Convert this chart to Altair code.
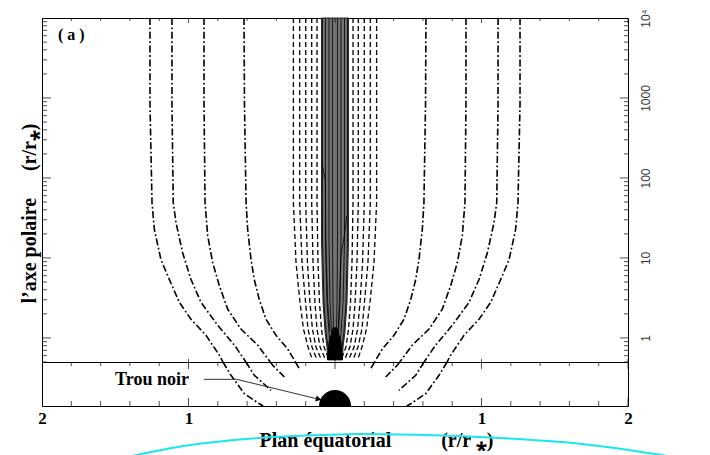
import altair as alt
import pandas as pd

# ---------------- data (r/r*) ----------------
# dash-dot field lines, right half (left half is the mirror image)
# upper panel: polar axis (log), lower panel: near equatorial plane (linear 0..0.5)
A_up_y = [10000, 850, 48.8, 22.7, 9.5, 5.38, 3.03, 1.71, 1.08, 0.726, 0.5]
A_up_x = [0.621, 0.618, 0.607, 0.596, 0.573, 0.551, 0.517, 0.471, 0.403, 0.323, 0.270]
A_lo_y = [0.5, 0.424]
A_lo_x = [0.270, 0.244]

B_up_y = [10000, 850, 48.8, 19.0, 8.75, 4.53, 2.28, 1.29, 0.814, 0.5]
B_up_x = [0.894, 0.894, 0.887, 0.869, 0.835, 0.790, 0.732, 0.642, 0.528, 0.442]
B_lo_y = [0.5, 0.4625, 0.330]
B_lo_x = [0.442, 0.425, 0.346]

C_up_y = [10000, 850, 48.8, 27.5, 11.6, 5.38, 2.79, 1.44, 0.814, 0.5]
C_up_x = [1.113, 1.113, 1.104, 1.085, 1.040, 0.983, 0.915, 0.801, 0.687, 0.608]
C_lo_y = [0.5, 0.349, 0.178]
C_lo_x = [0.608, 0.551, 0.437]

D_up_y = [10000, 850, 48.8, 22.7, 9.5, 6.0, 2.79, 1.71, 1.08, 0.611, 0.5]
D_up_x = [1.263, 1.263, 1.249, 1.233, 1.188, 1.142, 1.063, 0.983, 0.881, 0.790, 0.765]
D_lo_y = [0.5, 0.349, 0.140, 0.026, 0.0]
D_lo_x = [0.765, 0.710, 0.619, 0.517, 0.490]

# dashed lines (right half)
dash_y = [10000, 48.8, 8.75, 2.79, 1.29, 0.77, 0.55]
dash1_x = [0.123, 0.123, 0.116, 0.106, 0.092, 0.075, 0.044]
dash2_x = [0.159, 0.159, 0.150, 0.137, 0.123, 0.102, 0.068]
dash3_x = [0.200, 0.200, 0.188, 0.171, 0.154, 0.130, 0.096]
dash4_x = [0.241, 0.241, 0.225, 0.201, 0.184, 0.157, 0.126]
dash5_x = [0.284, 0.284, 0.266, 0.239, 0.215, 0.184, 0.157]

# jet core (grey band) half width
core_y = [10000, 15.5, 2.79, 1.18, 0.77, 0.53]
core_half = [0.092, 0.092, 0.082, 0.068, 0.055, 0.051]
blob_y = [1.36, 0.887, 0.53]
blob_half = [0.015, 0.044, 0.055]

# solid lines inside the core (right half)
cl_y = [10000, 15.5, 2.79, 1.18, 0.666, 0.53]
cl1_x = [0.017, 0.017, 0.014, 0.010, 0.007, 0.007]
cl2_x = [0.041, 0.041, 0.034, 0.024, 0.017, 0.014]
cl3_x = [0.065, 0.065, 0.055, 0.041, 0.031, 0.027]
cl4_x = [0.085, 0.085, 0.075, 0.061, 0.044, 0.041]
jagL_x = [-0.090, -0.066, -0.062, -0.050, -0.035]
jagL_y = [153, 94, 15.5, 2.79, 1.18]
jagR_x = [0.080, 0.064, 0.040, 0.030, 0.022]
jagR_y = [33.6, 19, 10.7, 2.79, 1.18]

# annotations
hole_x, hole_y = [0.0], [0.0]
label_x, label_y, label_t = [-1.249], [0.295], ["Trou noir"]
arrow_x = [-0.894, -0.671, -0.118]
arrow_y = [0.303, 0.303, 0.080]
head_x, head_y = [-0.112], [0.078]
panel_x, panel_y, panel_t = [-1.80], [6150], ["( a )"]

# cyan arc of the slide background, below the figure
arc_x = [-1.42, -1.00, -0.59, -0.09, 0.15, 0.55, 0.98, 1.67, 2.23, 2.42]
arc_y = [-0.58, -0.447, -0.372, -0.330, -0.318, -0.328, -0.352, -0.428, -0.557, -0.61]

# tick values
x_major = [-2, -1, 0, 1, 2]
x_minor = [-1.8, -1.6, -1.4, -1.2, -0.8, -0.6, -0.4, -0.2,
           0.2, 0.4, 0.6, 0.8, 1.2, 1.4, 1.6, 1.8]
log_major = [1, 10, 100, 1000, 10000]
log_minor = [0.5, 0.6, 0.7, 0.8, 0.9,
             2, 3, 4, 5, 6, 7, 8, 9,
             20, 30, 40, 50, 60, 70, 80, 90,
             200, 300, 400, 500, 600, 700, 800, 900,
             2000, 3000, 4000, 5000, 6000, 7000, 8000, 9000]

# ---------------- helpers ----------------
W, H_UP, H_LO = 586, 344, 44
SERIF = "Liberation Serif"
XS = alt.Scale(domain=[-2, 2], nice=False, zero=False)
YU = alt.Scale(type="log", domain=[0.5, 10000], nice=False)
YL = alt.Scale(domain=[0, 0.5], nice=False, zero=False)


def mirrored(curves):
    rows = []
    for name, xs, ys in curves:
        for side, s in (("R", 1), ("L", -1)):
            for i, (x, y) in enumerate(zip(xs, ys)):
                rows.append({"id": name + side, "i": i, "x": s * x, "y": y})
    return pd.DataFrame(rows)


def lines(df, yscale, yaxis=None, xaxis=None, **mk):
    return alt.Chart(df).mark_line(color="black", **mk).encode(
        x=alt.X("x:Q", scale=XS, axis=xaxis),
        y=alt.Y("y:Q", scale=yscale, axis=yaxis),
        detail="id:N",
        order="i:Q",
    )


def ticks(values, lens, xfix=None, yfix=None, yscale=None, orient="vertical"):
    rows = []
    for vals, ln in zip(values, lens):
        for v in vals:
            rows.append({"x": xfix if xfix is not None else v,
                         "y": yfix if yfix is not None else v, "len": ln})
    return alt.Chart(pd.DataFrame(rows)).mark_tick(
        orient=orient, clip=True, thickness=1, color="black").encode(
        x=alt.X("x:Q", scale=XS, axis=None),
        y=alt.Y("y:Q", scale=yscale, axis=None),
        size=alt.Size("len:Q", scale=None),
    )


# ---------------- upper panel ----------------
dd_up = mirrored([("A", A_up_x, A_up_y), ("B", B_up_x, B_up_y),
                  ("C", C_up_x, C_up_y), ("D", D_up_x, D_up_y)])
dash_df = mirrored([(f"d{k}", xs, dash_y) for k, xs in
                    enumerate([dash1_x, dash2_x, dash3_x, dash4_x, dash5_x])])
core_lines = mirrored([(f"c{k}", xs, cl_y) for k, xs in
                       enumerate([cl1_x, cl2_x, cl3_x, cl4_x])])
jag_df = pd.DataFrame(
    [{"id": "jL", "i": i, "x": x, "y": y} for i, (x, y) in enumerate(zip(jagL_x, jagL_y))]
    + [{"id": "jR", "i": i, "x": x, "y": y} for i, (x, y) in enumerate(zip(jagR_x, jagR_y))])

right_axis = alt.Axis(
    orient="right", values=log_major,
    labelExpr="datum.value >= 10000 ? '10⁴' : format(datum.value, 'd')",
    ticks=False, domain=False, grid=False, labelAngle=270,
    labelAlign="center", labelBaseline="top", labelPadding=12,
    labelFont="Liberation Sans Narrow, Liberation Sans, sans-serif",
    labelFontSize=12, labelColor="#333333", labelFlush=False,
    labelOverlap=False, title=None)

left_axis = alt.Axis(
    orient="left", labels=False, ticks=False, domain=False, grid=False,
    title="l’axe polaire\u2003\u2004(r/r⁎)", titleFont=SERIF, titleFontSize=20,
    titleFontWeight="bold", titleColor="black", titleAngle=270,
    titleX=-13, titleY=195, titleAlign="center", titleBaseline="middle")

core = alt.Chart(pd.DataFrame({"y": core_y, "xl": [-h for h in core_half],
                               "xr": core_half})).mark_area(
    orient="horizontal", fill="#737373", stroke="black", strokeWidth=0.8).encode(
    x=alt.X("xl:Q", scale=XS, axis=None), x2="xr:Q",
    y=alt.Y("y:Q", scale=YU, axis=left_axis))

blob = alt.Chart(pd.DataFrame({"y": blob_y, "xl": [-h for h in blob_half],
                               "xr": blob_half})).mark_area(
    orient="horizontal", fill="black").encode(
    x=alt.X("xl:Q", scale=XS, axis=None), x2="xr:Q",
    y=alt.Y("y:Q", scale=YU, axis=None))

panel_lbl = alt.Chart(pd.DataFrame({"x": panel_x, "y": panel_y, "t": panel_t})).mark_text(
    font=SERIF, fontWeight="bold", fontSize=16, align="center", baseline="middle",
    color="black").encode(
    x=alt.X("x:Q", scale=XS, axis=None), y=alt.Y("y:Q", scale=YU, axis=None), text="t:N")

upper = alt.layer(
    core,
    lines(core_lines, YU, strokeWidth=0.8),
    lines(jag_df, YU, strokeWidth=0.8),
    blob,
    lines(dash_df, YU, strokeWidth=1.3, strokeDash=[5, 3]),
    lines(dd_up, YU, yaxis=right_axis, strokeWidth=1.6, strokeDash=[7, 2.5, 1.8, 2.5]),
    ticks([x_minor, x_major], [6, 10], yfix=10000, yscale=YU),
    ticks([x_major], [6], yfix=0.5, yscale=YU),
    ticks([log_minor, log_major], [8, 16], xfix=2, yscale=YU, orient="horizontal"),
    ticks([log_minor, log_major], [10, 18], xfix=-2, yscale=YU, orient="horizontal"),
    panel_lbl,
).resolve_axis(y="independent").properties(width=W, height=H_UP)

# ---------------- lower panel ----------------
dd_lo = mirrored([("A", A_lo_x, A_lo_y), ("B", B_lo_x, B_lo_y),
                  ("C", C_lo_x, C_lo_y), ("D", D_lo_x, D_lo_y)])

bottom_axis = alt.Axis(
    orient="bottom", values=[-2, -1, 1, 2],
    labelExpr="format(abs(datum.value), 'd')",
    ticks=False, domain=False, grid=False, labelFont=SERIF, labelFontWeight="bold",
    labelFontSize=17, labelColor="black", labelPadding=4, labelFlush=False,
    title="Plan équatorial\u2003\u2003\u2002(r/r ⁎)", titleFont=SERIF,
    titleFontWeight="bold", titleFontSize=20, titleColor="black",
    titleX=334, titleY=34, titleAlign="center", titleBaseline="middle")

dd_lower = lines(dd_lo, YL, xaxis=bottom_axis, strokeWidth=1.6,
                 strokeDash=[7, 2.5, 1.8, 2.5])

arc = alt.Chart(pd.DataFrame({"x": arc_x, "y": arc_y, "i": list(range(len(arc_x)))})).mark_line(
    color="#19e6f0", strokeWidth=2, clip=False, interpolate="monotone").encode(
    x=alt.X("x:Q", scale=XS, axis=None), y=alt.Y("y:Q", scale=YL, axis=None), order="i:Q")

hole = alt.Chart(pd.DataFrame({"x": hole_x, "y": hole_y})).mark_point(
    shape="M-1,0 A1,1 0 0,1 1,0 Z", size=1024, filled=True, color="black",
    opacity=1).encode(
    x=alt.X("x:Q", scale=XS, axis=None), y=alt.Y("y:Q", scale=YL, axis=None))

trou = alt.Chart(pd.DataFrame({"x": label_x, "y": label_y, "t": label_t})).mark_text(
    font=SERIF, fontWeight="bold", fontSize=18, align="center", baseline="middle",
    color="black").encode(
    x=alt.X("x:Q", scale=XS, axis=None), y=alt.Y("y:Q", scale=YL, axis=None), text="t:N")

arrow = alt.Chart(pd.DataFrame({"x": arrow_x, "y": arrow_y, "i": [0, 1, 2]})).mark_line(
    color="#333333", strokeWidth=1).encode(
    x=alt.X("x:Q", scale=XS, axis=None), y=alt.Y("y:Q", scale=YL, axis=None), order="i:Q")

head = alt.Chart(pd.DataFrame({"x": head_x, "y": head_y})).mark_point(
    shape="triangle-right", angle=14, size=40, filled=True, color="black",
    opacity=1).encode(
    x=alt.X("x:Q", scale=XS, axis=None), y=alt.Y("y:Q", scale=YL, axis=None))

lower = alt.layer(
    arc, dd_lower, hole, arrow, head, trou,
    ticks([x_minor, x_major], [8, 14], yfix=0.5, yscale=YL),
    ticks([x_minor, x_major], [10, 16], yfix=0.0, yscale=YL),
).resolve_axis(x="independent").properties(width=W, height=H_LO)

chart = alt.vconcat(upper, lower, spacing=0, bounds="flush").configure_view(
    stroke="black", strokeWidth=1, fill="white").properties(
    background="white", padding={"left": 10, "top": 0, "right": 5, "bottom": 0})

chart.save("out.html", embed_options={"renderer": "svg", "actions": False})
